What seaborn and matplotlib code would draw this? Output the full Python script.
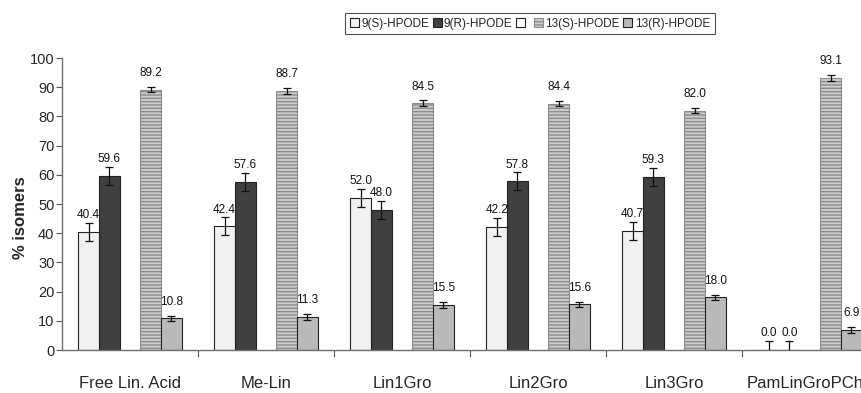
import numpy as np
import pandas as pd
import matplotlib
matplotlib.use("Agg")
import matplotlib.pyplot as plt
from matplotlib.patches import Patch
import seaborn as sns

# Sample names (x categories)
samples = ["Free Lin. Acid", "Me-Lin", "Lin1Gro", "Lin2Gro", "Lin3Gro", "PamLinGroPCho"]
# Isomer series; the blank one is an empty slot between the 9- and 13-isomers
isomers = ["9(S)-HPODE", "9(R)-HPODE", " ", "13(S)-HPODE", "13(R)-HPODE"]

# Percent isomer values per sample
s9 = [40.4, 42.4, 52.0, 42.2, 40.7, 0.0]
r9 = [59.6, 57.6, 48.0, 57.8, 59.3, 0.0]
s13 = [89.2, 88.7, 84.5, 84.4, 82.0, 93.1]
r13 = [10.8, 11.3, 15.5, 15.6, 18.0, 6.9]

# Error bar half-widths
err_s9 = [3.0, 3.0, 3.0, 3.0, 3.0, 3.0]
err_r9 = [3.0, 3.0, 3.0, 3.0, 3.0, 3.0]
err_s13 = [1.0, 1.0, 1.0, 1.0, 1.0, 1.0]
err_r13 = [1.0, 1.0, 1.0, 1.0, 1.0, 1.0]

series = {isomers[0]: (s9, err_s9), isomers[1]: (r9, err_r9),
          isomers[3]: (s13, err_s13), isomers[4]: (r13, err_r13)}

rows = []
for iso in isomers:
    if iso in series:
        vals, errs = series[iso]
        for smp, v, e in zip(samples, vals, errs):
            rows.append({"sample": smp, "isomer": iso, "pct": v, "err": e})
    else:
        for smp in samples:
            rows.append({"sample": smp, "isomer": iso, "pct": np.nan, "err": np.nan})
df = pd.DataFrame(rows)

sns.set_theme(style="white")
plt.rcParams["font.family"] = ["Liberation Sans", "DejaVu Sans"]

face = {isomers[0]: "#f1f1f1", isomers[1]: "#404040", isomers[2]: "#ffffff",
        isomers[3]: "#cdcdcd", isomers[4]: "#b9b9b9"}
edge = {isomers[0]: "#222222", isomers[1]: "#222222", isomers[2]: "#222222",
        isomers[3]: "#8c8c8c", isomers[4]: "#222222"}
hatch = {isomers[3]: "-----"}

fig = plt.figure(figsize=(8.62, 3.93), dpi=100)
ax = fig.add_axes([62 / 862, 43 / 393, 816 / 862, 292 / 393])

sns.barplot(data=df, x="sample", y="pct", hue="isomer", order=samples,
            hue_order=isomers, palette=face, width=0.76, gap=0,
            errorbar=None, edgecolor="#222222", linewidth=0.8,
            legend=False, ax=ax)

# Bars are added hue level by hue level, one per sample
patch_iter = iter(ax.patches)
for iso in isomers:
    if iso not in series:
        continue
    sub = df[df["isomer"] == iso]
    for _, row in sub.iterrows():
        p = next(patch_iter)
        x = p.get_x() + p.get_width() / 2
        v = row["pct"]
        p.set_edgecolor(edge[iso])
        if iso in hatch:
            p.set_hatch(hatch[iso])
        ax.errorbar(x, v, yerr=row["err"], fmt="none", ecolor="#111111",
                    elinewidth=0.9, capsize=3, capthick=0.9, zorder=5)
        ax.annotate(f"{v:.1f}", (x, v), xytext=(0, 12), textcoords="offset points",
                    ha="center", va="center", fontsize=8.5, color="#111111")

ax.set_ylim(0, 100)
ax.set_xlim(-0.5, len(samples) - 0.5)
ax.set_yticks(np.arange(0, 101, 10))
ax.set_ylabel("% isomers", fontsize=12, fontweight="bold")
ax.yaxis.set_label_coords(-0.042, 0.455)
ax.set_xlabel("")

ax.set_xticks(np.arange(len(samples)))
ax.set_xticklabels(samples, fontsize=12)
ax.set_xticks(np.arange(0.5, len(samples) - 0.5, 1), minor=True)
ax.tick_params(axis="x", which="major", length=0, pad=19)
ax.tick_params(axis="x", which="minor", length=5, width=0.8, color="#555555",
               direction="out", bottom=True)
ax.tick_params(axis="y", length=4, width=0.8, color="#555555", direction="out",
               left=True, labelsize=10.5, pad=1.5)

for side in ["top", "right"]:
    ax.spines[side].set_visible(False)
for side in ["left", "bottom"]:
    ax.spines[side].set_color("#707070")
    ax.spines[side].set_linewidth(1.0)

handles = [Patch(facecolor=face[iso], edgecolor=edge[iso], linewidth=0.8,
                 hatch=hatch.get(iso)) for iso in isomers]
leg = fig.legend(handles, isomers, loc="center", bbox_to_anchor=(530 / 862, 1 - 23.5 / 393),
                 ncol=5, frameon=True, fontsize=8.5, handlelength=0.75, handleheight=0.75,
                 handletextpad=0.2, columnspacing=0.3, borderpad=0.4, borderaxespad=0,
                 fancybox=False)
leg.get_frame().set_edgecolor("#222222")
leg.get_frame().set_linewidth(0.8)

fig.savefig("out.png", dpi=100)
